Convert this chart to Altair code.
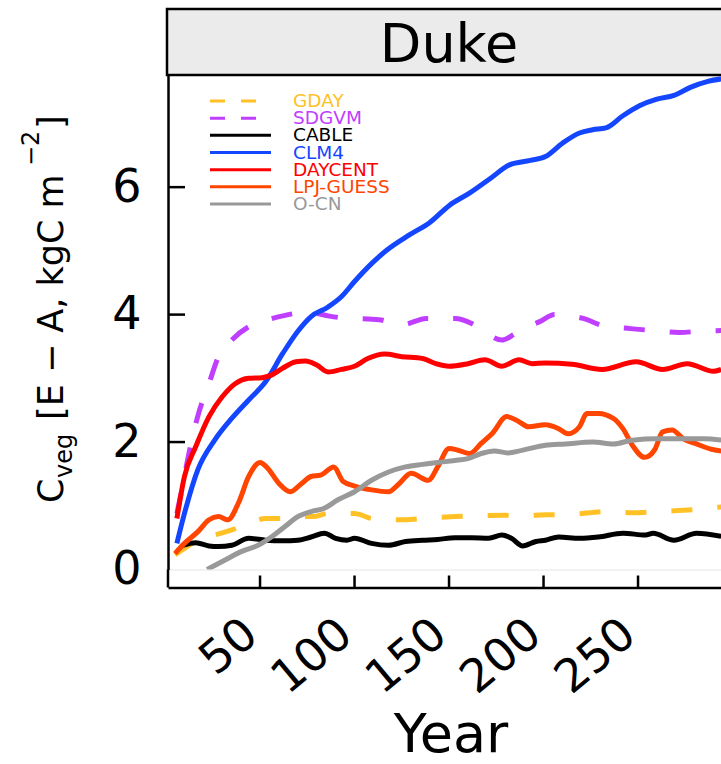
import altair as alt
import pandas as pd

FONT = "DejaVu Sans"

models = ["GDAY", "SDGVM", "CABLE", "CLM4", "DAYCENT", "LPJ-GUESS", "O-CN"]
colors = ["#FFC125", "#BF3EFF", "#000000", "#1446FF", "#FF0000", "#FF4500", "#999999"]
dashed_models = ["GDAY", "SDGVM"]

gday_years = [5, 10, 17, 26, 35, 44, 53, 62, 70, 78, 86, 95, 100, 109, 118, 127, 136, 153, 162, 180, 190, 201, 212, 233, 247, 260, 280, 290, 294]
gday_cveg = [0.23, 0.33, 0.46, 0.54, 0.62, 0.72, 0.80, 0.80, 0.83, 0.83, 0.88, 0.88, 0.88, 0.80, 0.78, 0.78, 0.80, 0.83, 0.84, 0.85, 0.84, 0.86, 0.86, 0.91, 0.89, 0.91, 0.94, 0.97, 0.98]

sdgvm_years = [6, 8.6, 12, 17, 23, 28, 35, 44, 53, 62, 70, 79, 86, 93, 100, 113, 125, 138, 153, 162, 170, 178, 185, 191, 198, 206, 214, 221, 231, 246, 258, 272, 283, 294]
sdgvm_cveg = [0.88, 1.25, 1.77, 2.40, 2.92, 3.34, 3.60, 3.81, 3.91, 3.98, 4.02, 4.02, 3.98, 3.95, 3.94, 3.92, 3.84, 3.94, 3.94, 3.86, 3.70, 3.60, 3.70, 3.80, 3.89, 4.00, 3.98, 3.94, 3.83, 3.78, 3.75, 3.72, 3.74, 3.75]

cable_years = [9, 16, 23, 28, 35, 44, 53, 62, 70, 77, 84, 90, 96, 100, 109, 118, 127, 136, 144, 153, 162, 171, 178, 183, 189, 196, 201, 208, 219, 229, 242, 254, 258, 269, 281, 294]
cable_cveg = [0.38, 0.42, 0.37, 0.36, 0.38, 0.49, 0.46, 0.45, 0.46, 0.51, 0.57, 0.49, 0.46, 0.49, 0.41, 0.38, 0.44, 0.46, 0.47, 0.50, 0.50, 0.49, 0.54, 0.49, 0.37, 0.44, 0.46, 0.51, 0.49, 0.51, 0.57, 0.54, 0.57, 0.46, 0.57, 0.52]

clm4_years = [6, 10, 17, 26, 35, 44, 53, 62, 70, 77, 86, 93, 100, 109, 117, 129, 140, 150, 161, 172, 182, 193, 201, 210, 219, 226, 233, 242, 251, 260, 269, 278, 287, 294]
clm4_cveg = [0.41, 0.88, 1.56, 2.03, 2.37, 2.66, 2.95, 3.39, 3.74, 3.97, 4.12, 4.28, 4.52, 4.80, 5.01, 5.25, 5.45, 5.71, 5.91, 6.14, 6.35, 6.42, 6.48, 6.69, 6.85, 6.90, 6.93, 7.12, 7.28, 7.38, 7.44, 7.57, 7.66, 7.70]

daycent_years = [6, 10, 16, 23, 30, 37, 44, 51, 56, 62, 69, 74, 80, 86, 93, 100, 107, 116, 125, 136, 143, 150, 160, 169, 178, 187, 194, 201, 215, 231, 249, 263, 276, 290, 294]
daycent_cveg = [0.80, 1.46, 1.93, 2.40, 2.71, 2.92, 3.00, 3.01, 3.05, 3.16, 3.26, 3.27, 3.21, 3.10, 3.14, 3.19, 3.31, 3.38, 3.34, 3.31, 3.23, 3.19, 3.23, 3.29, 3.19, 3.29, 3.23, 3.24, 3.22, 3.14, 3.26, 3.14, 3.23, 3.11, 3.14]

lpj_years = [5, 10, 17, 23, 28, 33, 38.5, 44, 50, 54, 60, 66, 72, 77, 82, 89, 94, 100, 109, 118, 123, 130, 139, 144, 150, 155, 161, 167, 173, 180.5, 187, 192, 201, 208, 213, 219, 223, 229, 237, 242, 247, 253.5, 259, 263, 268, 274, 281, 288.5, 294]
lpj_cveg = [0.25, 0.41, 0.59, 0.78, 0.83, 0.78, 1.04, 1.46, 1.68, 1.59, 1.35, 1.22, 1.35, 1.46, 1.48, 1.61, 1.38, 1.31, 1.25, 1.22, 1.33, 1.51, 1.40, 1.61, 1.90, 1.87, 1.82, 1.98, 2.14, 2.40, 2.32, 2.24, 2.27, 2.21, 2.13, 2.24, 2.45, 2.45, 2.37, 2.21, 1.95, 1.76, 1.89, 2.16, 2.19, 2.05, 1.97, 1.89, 1.86]

ocn_years = [22, 31.5, 40, 49, 56, 63, 70, 77, 84, 91, 100, 109, 118, 127, 136, 144, 153, 160, 167, 174, 181, 188.5, 201, 211.5, 226, 237, 247, 260, 272, 285, 294]
ocn_cveg = [0.0, 0.15, 0.28, 0.38, 0.51, 0.67, 0.83, 0.91, 0.96, 1.09, 1.22, 1.40, 1.53, 1.61, 1.65, 1.68, 1.71, 1.74, 1.82, 1.86, 1.83, 1.87, 1.95, 1.97, 2.00, 1.97, 2.03, 2.05, 2.05, 2.05, 2.03]

x_ticks = [50, 100, 150, 200, 250]
y_ticks = [0, 2, 4, 6]
panel_title = "Duke"
x_title = "Year"
y_title_parts = ["C", "veg", "[E \u2212 A, kgC m", "\u22122", "]"]

year_lists = [gday_years, sdgvm_years, cable_years, clm4_years, daycent_years, lpj_years, ocn_years]
value_lists = [gday_cveg, sdgvm_cveg, cable_cveg, clm4_cveg, daycent_cveg, lpj_cveg, ocn_cveg]

rows = []
for m, yrs, vals in zip(models, year_lists, value_lists):
    for yr, v in zip(yrs, vals):
        rows.append({"model": m, "year": yr, "cveg": v})
df = pd.DataFrame(rows)

W = 553
H = 494.5
xs = alt.Scale(domain=[1.3, 293.9], nice=False, zero=False)
ys = alt.Scale(domain=[0, 7.76], nice=False, zero=False)
color_scale = alt.Scale(domain=models, range=colors)

x_axis = alt.Axis(values=x_ticks, title=None, grid=False, ticks=False, tickSize=0,
                  domainColor="black", domainWidth=2.5, offset=18,
                  labelFont=FONT, labelFontSize=46, labelColor="black",
                  labelAngle=-40, labelAlign="right", labelBaseline="alphabetic",
                  labelPadding=51, labelOverlap=False, labelFlush=False)
y_axis = alt.Axis(values=y_ticks, title=None, grid=False, ticks=False, tickSize=0,
                  domainColor="black", domainWidth=2.5,
                  labelFont=FONT, labelFontSize=46, labelColor="black",
                  labelPadding=27, labelBaseline="middle",
                  labelOverlap=False, labelFlush=False)

one = pd.DataFrame({"t": [0]})

header_rect = alt.Chart(one).mark_rect(fill="#EBEBEB", stroke="black", strokeWidth=2.5).encode(
    x=alt.value(-1), x2=alt.value(W + 30), y=alt.value(-66), y2=alt.value(0))
header_text = alt.Chart(pd.DataFrame({"t": [panel_title]})).mark_text(
    font=FONT, fontSize=54, align="center", baseline="alphabetic", color="black").encode(
    text="t:N", x=alt.value(281), y=alt.value(-13))

line_layers = []
for m in models:
    sub = df[df["model"] == m]
    kw = dict(strokeWidth=5, interpolate="monotone", clip=True)
    if m in dashed_models:
        kw["strokeDash"] = [21, 25]
    line_layers.append(
        alt.Chart(sub).mark_line(**kw).encode(
            x=alt.X("year:Q", scale=xs, axis=x_axis),
            y=alt.Y("cveg:Q", scale=ys, axis=y_axis),
            color=alt.Color("model:N", scale=color_scale, legend=None),
        )
    )

ytick_layer = alt.Chart(pd.DataFrame({"v": [t for t in y_ticks if t > 0]})).mark_rule(
    color="black", strokeWidth=2.5).encode(
    y=alt.Y("v:Q", scale=ys, axis=y_axis), x=alt.value(0), x2=alt.value(17))
xtick_layer = alt.Chart(pd.DataFrame({"v": x_ticks})).mark_rule(
    color="black", strokeWidth=2.5).encode(
    x=alt.X("v:Q", scale=xs, axis=x_axis), y=alt.value(H + 6), y2=alt.value(H + 18))
corner = alt.Chart(one).mark_rule(color="black", strokeWidth=2.5).encode(
    x=alt.value(0), y=alt.value(H), y2=alt.value(H + 18))

year_text = alt.Chart(pd.DataFrame({"t": [x_title]})).mark_text(
    font=FONT, fontSize=54, align="center", baseline="alphabetic", color="black").encode(
    text="t:N", x=alt.value(283), y=alt.value(677))

# y title pieces: (text, x, y, size)
yt_specs = [
    (y_title_parts[0], -105, 428, 35),
    (y_title_parts[1], -96, 403, 24),
    (y_title_parts[2], -105, 345, 35),
    (y_title_parts[3], -129, 91, 24),
    (y_title_parts[4], -105, 54, 35),
]
ytitle_layers = []
for txt, px, py, fs in yt_specs:
    ytitle_layers.append(
        alt.Chart(pd.DataFrame({"t": [txt]})).mark_text(
            font=FONT, fontSize=fs, align="left", baseline="alphabetic", angle=270, color="black").encode(
            text="t:N", x=alt.value(px), y=alt.value(py))
    )

main = alt.layer(header_rect, header_text, *line_layers, ytick_layer, xtick_layer, corner,
                 year_text, *ytitle_layers)

leg_df = pd.DataFrame({"model": models})
leg_y = alt.Y("model:N", scale=alt.Scale(type="point", domain=models, range=[26, 129], padding=0), axis=None)
solid_models = [m for m in models if m not in dashed_models]
leg_solid = alt.Chart(leg_df).transform_filter(
    alt.FieldOneOfPredicate(field="model", oneOf=solid_models)).mark_rule(strokeWidth=3).encode(
    y=leg_y, x=alt.value(42), x2=alt.value(103),
    color=alt.Color("model:N", scale=color_scale, legend=None))
leg_dash = alt.Chart(leg_df).transform_filter(
    alt.FieldOneOfPredicate(field="model", oneOf=dashed_models)).mark_rule(strokeWidth=3, strokeDash=[15, 16]).encode(
    y=leg_y, x=alt.value(42), x2=alt.value(103),
    color=alt.Color("model:N", scale=color_scale, legend=None))
leg_text = alt.Chart(leg_df).mark_text(font=FONT, fontSize=18.5, align="left", baseline="middle").encode(
    y=leg_y, x=alt.value(125), text="model:N",
    color=alt.Color("model:N", scale=color_scale, legend=None))
legend = alt.layer(leg_solid, leg_dash, leg_text)

chart = alt.layer(main, legend).resolve_scale(y="independent").properties(
    width=W, height=H,
    padding={"left": 168, "top": 75, "right": 0, "bottom": 764 - 75 - H},
    autosize=alt.AutoSizeParams(type="none"),
    background="white",
).configure_view(stroke="#E6E6E6", strokeWidth=1)

chart.save("out.html", embed_options={"renderer": "svg", "actions": False})
